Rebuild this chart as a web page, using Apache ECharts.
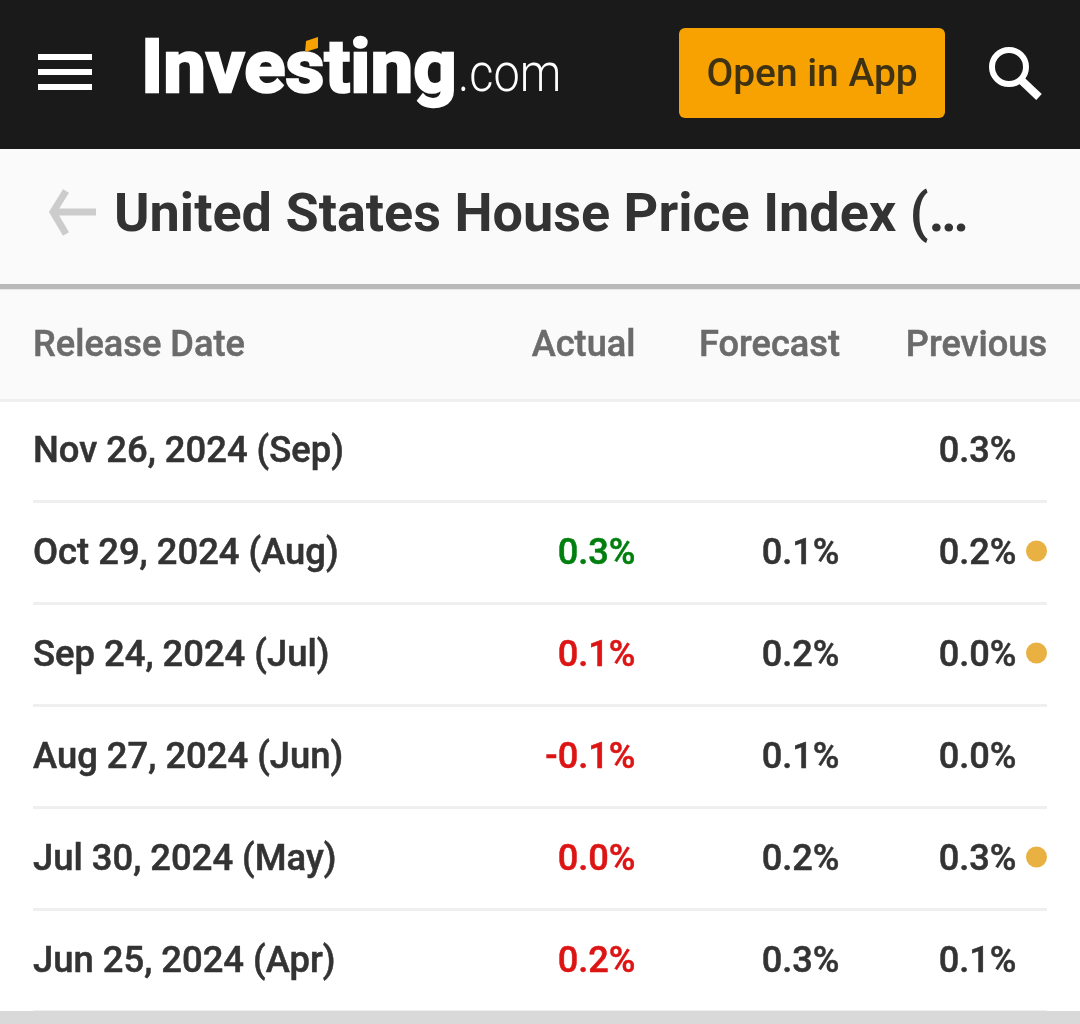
<!DOCTYPE html>
<html><head><meta charset="utf-8">
<style>html,body{margin:0;padding:0;background:#fff}#c{width:1080px;height:1024px}</style>
<script src="https://cdn.jsdelivr.net/npm/echarts@6/dist/echarts.min.js"></script>
</head><body><div id="c"></div>
<script>
const title = 'United States House Price Index (…';
const columns = ['Release Date', 'Actual', 'Forecast', 'Previous'];
const releaseDates = ['Nov 26, 2024 (Sep)', 'Oct 29, 2024 (Aug)', 'Sep 24, 2024 (Jul)', 'Aug 27, 2024 (Jun)', 'Jul 30, 2024 (May)', 'Jun 25, 2024 (Apr)'];
const actual = [null, 0.3, 0.1, -0.1, 0.0, 0.2];
const forecast = [null, 0.1, 0.2, 0.1, 0.2, 0.3];
const previous = [0.3, 0.2, 0.0, 0.0, 0.3, 0.1];
const revised = [false, true, true, false, true, false];

const FONT = 'Roboto';
const DARK = '#333333', HEAD = '#6b6b6b';
const pct = v => v.toFixed(1) + '%';
const actualColor = i => actual[i] > forecast[i] ? '#007f0e' : '#dc1414';

function column(name, x, values, colorFn) {
  return {
    type: 'scatter', name, silent: true, symbolSize: 1, clip: false,
    itemStyle: { color: 'transparent', opacity: 1 },
    data: values.map((v, i) => v === null ? null : {
      value: [x, releaseDates[i]],
      label: { formatter: pct(v), color: colorFn ? colorFn(i) : DARK, textBorderColor: colorFn ? colorFn(i) : DARK }
    }).filter(Boolean),
    label: { show: true, position: 'left', distance: 0, offset: [0, 3], opacity: 1, fontFamily: FONT, fontWeight: 500, fontSize: 36.2, textBorderWidth: 0.5 }
  };
}
const rect = (x, y, w, h, fill, z, r) => ({ type: 'rect', z: z || 1, silent: true,
  shape: { x, y, width: w, height: h, r: r || 0 }, style: { fill } });
const text = (t, x, y, size, weight, fill, align, extra, border) => Object.assign({ type: 'text', z: 5, silent: true, x, y,
  style: { text: t, fontFamily: FONT, fontSize: size, fontWeight: weight, fill, align: align || 'left', verticalAlign: 'middle',
    stroke: border ? fill : null, lineWidth: border || 0 } }, extra || {});
const stroke = (points, color, w) => ({ type: 'polyline', z: 5, silent: true, shape: { points },
  style: { stroke: color, lineWidth: w, fill: 'none' } });

const chart = echarts.init(document.getElementById('c'), null, { renderer: 'canvas' });
chart.setOption({
  animation: false,
  backgroundColor: '#ffffff',
  grid: { left: 33, width: 1014, top: 399, height: 612 },
  xAxis: { type: 'value', min: 33, max: 1047, show: false },
  yAxis: {
    type: 'category', inverse: true, data: releaseDates,
    axisLine: { show: false }, axisTick: { show: false },
    axisLabel: { show: false },
    splitLine: { show: true, lineStyle: { color: '#efefef', width: 3 } }
  },
  series: [
    {
      type: 'scatter', name: columns[0], silent: true, symbolSize: 1, clip: false,
      itemStyle: { color: 'transparent', opacity: 1 },
      data: releaseDates.map(d => [33, d]),
      label: { show: true, position: 'right', distance: 0, offset: [-0.5, 3], opacity: 1, color: DARK, textBorderColor: DARK, textBorderWidth: 0.5, fontFamily: FONT, fontWeight: 500, fontSize: 36.4,
        formatter: p => p.value[1] }
    },
    column(columns[1], 636, actual, actualColor),
    column(columns[2], 840, forecast),
    column(columns[3], 1017, previous),
    {
      type: 'scatter', name: 'Revised', silent: true, symbol: 'circle', symbolSize: 21, symbolOffset: [0, -1], clip: false,
      itemStyle: { color: '#e8b142', opacity: 1 },
      data: releaseDates.filter((d, i) => revised[i]).map(d => [1036.5, d])
    }
  ],
  graphic: [
    rect(0, 0, 1080, 149, '#1a1a1a'),
    rect(38, 54, 54, 6, '#ffffff', 5), rect(38, 69, 54, 6, '#ffffff', 5), rect(38, 84, 54, 6, '#ffffff', 5),
    text('Investing', 141, 73, 74, 700, '#ffffff', 'left', { scaleX: 1.03 }, 2.5),
    { type: 'polygon', z: 6, silent: true, shape: { points: [[306, 41], [318, 37], [318, 48], [305, 52]] }, style: { fill: '#f7a200' } },
    text('.com', 458, 78, 53, 300, '#ffffff', 'left', { scaleX: 0.885 }),
    rect(679, 28, 266, 90, '#f7a200', 3, 6),
    text('Open in App', 812, 76, 38.9, 500, '#3f3212', 'center'),
    { type: 'circle', z: 5, silent: true, shape: { cx: 1009, cy: 67, r: 17 }, style: { stroke: '#fff', lineWidth: 6, fill: 'none' } },
    stroke([[1021, 80], [1039, 97]], '#ffffff', 8),

    rect(0, 149, 1080, 136, '#fafafa'),
    rect(0, 284, 1080, 5, '#b9b9b9', 2),
    rect(0, 289, 1080, 1, '#e6e6e6', 2),
    stroke([[66, 191], [53, 212], [66, 234]], '#cccccc', 7),
    stroke([[53, 212], [96, 212]], '#cccccc', 7),
    text(title, 114, 217, 54, 700, DARK),

    rect(0, 290, 1080, 109, '#fafafa'),
    rect(0, 399, 1080, 3, '#efefef', 2),
    text(columns[0], 33, 347, 36.2, 500, HEAD, 'left', null, 0.5),
    text(columns[1], 635.5, 347, 36.2, 500, HEAD, 'right', null, 0.5),
    text(columns[2], 840, 347, 36.2, 500, HEAD, 'right', null, 0.5),
    text(columns[3], 1047, 347, 36.2, 500, HEAD, 'right', null, 0.5),

    rect(0, 1011, 1080, 13, '#d9d9d9', 5)
  ]
});
</script></body></html>
